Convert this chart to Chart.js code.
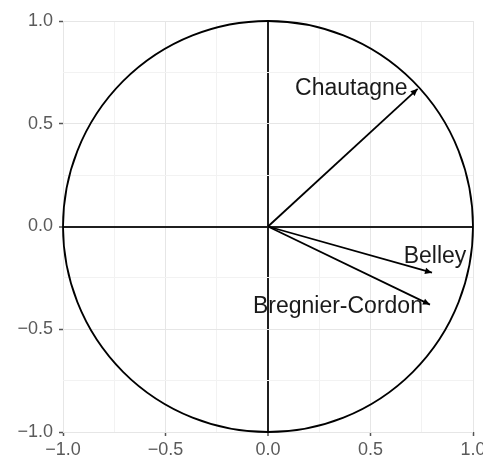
<!DOCTYPE html>
<html>
<head>
<meta charset="utf-8">
<script src="https://cdn.jsdelivr.net/npm/chart.js@4/dist/chart.umd.min.js"></script>
<style>
  body { margin: 0; background: #fff; }
  #wrap { width: 483px; height: 462px; position: relative; }
</style>
</head>
<body>
<div id="wrap"><canvas id="corCircle"></canvas></div>
<script>
// variables and their coordinates on the two axes
const varNames = ['Chautagne', 'Belley', 'Bregnier-Cordon'];
const dim1 = [0.73, 0.80, 0.79];
const dim2 = [0.67, -0.225, -0.38];
const majorTicks = [-1, -0.5, 0, 0.5, 1];

// where each label sits relative to the arrow tip (pixels)
const labelPlace = {
  'Chautagne': { dx: -10, dy: 0, align: 'right' },
  'Belley': { dx: 3, dy: -16, align: 'center' },
  'Bregnier-Cordon': { dx: -7, dy: 2, align: 'right' }
};

const FONT = '"Liberation Sans", Arial, sans-serif';

const isMajor = v => majorTicks.some(m => Math.abs(m - v) < 1e-9);
const fmt = v => (v < 0 ? '\u2212' : '') + Math.abs(v).toFixed(1);

const gridColor = ctx => {
  const v = ctx.tick ? ctx.tick.value : null;
  if (v === null) return '#ebebeb';
  if (Math.abs(v) < 1e-9) return '#1f1f1f';
  return isMajor(v) ? '#e6e6e6' : '#f2f2f2';
};
const gridWidth = ctx => (ctx.tick && Math.abs(ctx.tick.value) < 1e-9) ? 2 : 1;
const tickColor = ctx => (ctx.tick && isMajor(ctx.tick.value)) ? '#555' : 'rgba(0,0,0,0)';

const datasets = varNames.map((name, i) => ({
  label: name,
  data: [{ x: 0, y: 0 }, { x: dim1[i], y: dim2[i] }],
  showLine: true,
  borderColor: '#000',
  borderWidth: 1.8,
  pointRadius: 0,
  fill: false
}));

// unit circle, drawn from the scales
const circlePlugin = {
  id: 'circle',
  beforeDatasetsDraw(chart) {
    const { x, y } = chart.scales;
    const cx = x.getPixelForValue(0), cy = y.getPixelForValue(0);
    const rx = x.getPixelForValue(1) - cx;
    const ry = cy - y.getPixelForValue(1);
    const c = chart.ctx;
    c.save();
    c.strokeStyle = '#000';
    c.lineWidth = 1.8;
    c.beginPath();
    c.ellipse(cx, cy, rx, ry, 0, 0, Math.PI * 2);
    c.stroke();
    c.restore();
  }
};

// arrow heads and text labels
const arrowPlugin = {
  id: 'arrows',
  afterDatasetsDraw(chart) {
    const c = chart.ctx;
    chart.data.datasets.forEach((ds, i) => {
      const pts = chart.getDatasetMeta(i).data;
      const p0 = pts[0], p1 = pts[1];
      const ang = Math.atan2(p1.y - p0.y, p1.x - p0.x);
      const len = 7, half = 3.2;
      c.save();
      c.fillStyle = '#000';
      c.translate(p1.x, p1.y);
      c.rotate(ang);
      c.beginPath();
      c.moveTo(0, 0);
      c.lineTo(-len, -half);
      c.lineTo(-len, half);
      c.closePath();
      c.fill();
      c.restore();

      const lp = labelPlace[ds.label];
      c.save();
      c.font = '23px ' + FONT;
      c.fillStyle = '#1a1a1a';
      c.textAlign = lp.align;
      c.textBaseline = 'middle';
      c.fillText(ds.label, p1.x + lp.dx, p1.y + lp.dy);
      c.restore();
    });
  }
};

new Chart(document.getElementById('corCircle'), {
  type: 'scatter',
  data: { datasets: datasets },
  plugins: [circlePlugin, arrowPlugin],
  options: {
    responsive: true,
    maintainAspectRatio: false,
    animation: false,
    layout: { padding: { top: 21, right: 10, left: 0, bottom: 0 } },
    plugins: { legend: { display: false }, tooltip: { enabled: false } },
    scales: {
      x: {
        type: 'linear',
        min: -1, max: 1,
        border: { display: false },
        grid: { color: gridColor, lineWidth: gridWidth, tickColor: tickColor, tickWidth: 1.5, tickLength: 4 },
        ticks: {
          stepSize: 0.25, autoSkip: false, maxRotation: 0, padding: 3,
          color: '#5a5a5a', font: { family: FONT, size: 18 },
          callback: v => isMajor(v) ? fmt(v) : ''
        },
        afterFit(scale) { scale.height = 30; scale.paddingLeft = 0; scale.paddingRight = 0; }
      },
      y: {
        type: 'linear',
        min: -1, max: 1,
        border: { display: false },
        grid: { color: gridColor, lineWidth: gridWidth, tickColor: tickColor, tickWidth: 1.5, tickLength: 4 },
        ticks: {
          stepSize: 0.25, autoSkip: false, padding: 6,
          color: '#5a5a5a', font: { family: FONT, size: 18 },
          callback: v => isMajor(v) ? fmt(v) : ''
        },
        afterFit(scale) { scale.width = 63; scale.paddingTop = 0; scale.paddingBottom = 0; }
      }
    }
  }
});
</script>
</body>
</html>
